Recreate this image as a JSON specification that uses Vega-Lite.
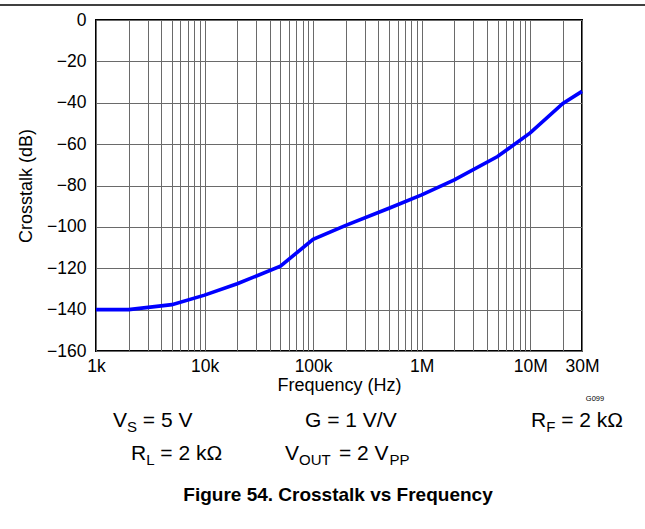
{
  "$schema": "https://vega.github.io/schema/vega-lite/v6.json",
  "width": 486,
  "height": 331,
  "autosize": {"type": "none"},
  "padding": {"left": 96, "top": 20, "right": 63, "bottom": 178},
  "background": "white",
  "config": {
    "font": "Liberation Sans",
    "view": {"stroke": "black", "strokeWidth": 2},
    "axis": {"labelFont": "Liberation Sans", "titleFont": "Liberation Sans", "labelColor": "black", "titleColor": "black", "titleFontWeight": "normal"}
  },
  "datasets": {
    "curve": [
      {"f": 1000, "db": -140},
      {"f": 2000, "db": -140},
      {"f": 5000, "db": -137.6},
      {"f": 10000, "db": -133},
      {"f": 20000, "db": -127.5},
      {"f": 50000, "db": -119},
      {"f": 100000, "db": -106},
      {"f": 200000, "db": -99.3},
      {"f": 500000, "db": -91},
      {"f": 1000000, "db": -84.5},
      {"f": 2000000, "db": -77.3},
      {"f": 5000000, "db": -66},
      {"f": 10000000, "db": -54.6},
      {"f": 20000000, "db": -40.3},
      {"f": 30000000, "db": -34.5}
    ],
    "main": [
      {"f": 1434, "db": -196.7, "text": "V"},
      {"f": 2698, "db": -196.7, "text": "= 5 V"},
      {"f": 84230, "db": -196.7, "text": "G = 1 V/V"},
      {"f": 10171000, "db": -196.7, "text": "R"},
      {"f": 19299000, "db": -196.7, "text": "= 2 kΩ"},
      {"f": 2101, "db": -212.7, "text": "R"},
      {"f": 3911, "db": -212.7, "text": "= 2 kΩ"},
      {"f": 55110, "db": -212.7, "text": "V"},
      {"f": 173200, "db": -212.7, "text": "= 2 V"}
    ],
    "sub": [
      {"f": 1931, "db": -196.7, "text": "S"},
      {"f": 14042000, "db": -196.7, "text": "F"},
      {"f": 2900, "db": -212.7, "text": "L"},
      {"f": 74170, "db": -212.7, "text": "OUT"},
      {"f": 505700, "db": -212.7, "text": "PP"}
    ],
    "tag": [{"f": 39540000, "db": -183.2, "text": "G099"}],
    "caption": [{"f": 169600, "db": -229.6, "text": "Figure 54. Crosstalk vs Frequency"}]
  },
  "layer": [
    {
      "data": {"name": "curve"},
      "mark": {"type": "line", "color": "#0000ff", "strokeWidth": 3.6, "clip": false},
      "encoding": {
        "x": {
          "field": "f", "type": "quantitative",
          "scale": {"type": "log", "domain": [1000, 30000000], "nice": false},
          "axis": {
            "title": "Frequency (Hz)",
            "values": [1000,2000,3000,4000,5000,6000,7000,8000,9000,10000,20000,30000,40000,50000,60000,70000,80000,90000,100000,200000,300000,400000,500000,600000,700000,800000,900000,1000000,2000000,3000000,4000000,5000000,6000000,7000000,8000000,9000000,10000000,20000000,30000000],
            "labelExpr": "datum.value==1000?'1k':datum.value==10000?'10k':datum.value==100000?'100k':datum.value==1000000?'1M':datum.value==10000000?'10M':datum.value==30000000?'30M':''",
            "grid": true, "gridColor": "#6a6a6a", "gridWidth": 1, "gridOpacity": 1,
            "ticks": false, "domain": false,
            "labelFontSize": 17.5, "labelPadding": 6, "labelOverlap": false, "labelFlush": false,
            "titleFontSize": 18, "titlePadding": 2
          }
        },
        "y": {
          "field": "db", "type": "quantitative",
          "scale": {"domain": [-160, 0], "nice": false},
          "axis": {
            "title": "Crosstalk (dB)",
            "values": [-160,-140,-120,-100,-80,-60,-40,-20,0],
            "grid": true, "gridColor": "#6a6a6a", "gridWidth": 1, "gridOpacity": 1,
            "ticks": false, "domain": false,
            "labelFontSize": 17.5, "labelPadding": 10, "labelFlush": false,
            "titleFontSize": 18, "titlePadding": 11
          }
        }
      }
    },
    {
      "data": {"values": [{}]},
      "mark": {"type": "rule", "color": "black", "strokeWidth": 1.5, "clip": false},
      "encoding": {
        "x": {"datum": 130.5, "type": "quantitative"},
        "x2": {"datum": 114200000},
        "y": {"datum": 7.25, "type": "quantitative"}
      }
    },
    {
      "data": {"name": "main"},
      "mark": {"type": "text", "align": "left", "baseline": "alphabetic", "fontSize": 21, "color": "black"},
      "encoding": {
        "x": {"field": "f", "type": "quantitative"},
        "y": {"field": "db", "type": "quantitative"},
        "text": {"field": "text"}
      }
    },
    {
      "data": {"name": "sub"},
      "mark": {"type": "text", "align": "left", "baseline": "alphabetic", "fontSize": 15, "dy": 5, "color": "black"},
      "encoding": {
        "x": {"field": "f", "type": "quantitative"},
        "y": {"field": "db", "type": "quantitative"},
        "text": {"field": "text"}
      }
    },
    {
      "data": {"name": "tag"},
      "mark": {"type": "text", "align": "center", "baseline": "middle", "fontSize": 7.5, "color": "black"},
      "encoding": {
        "x": {"field": "f", "type": "quantitative"},
        "y": {"field": "db", "type": "quantitative"},
        "text": {"field": "text"}
      }
    },
    {
      "data": {"name": "caption"},
      "mark": {"type": "text", "align": "center", "baseline": "middle", "fontSize": 19, "fontWeight": "bold", "color": "black"},
      "encoding": {
        "x": {"field": "f", "type": "quantitative"},
        "y": {"field": "db", "type": "quantitative"},
        "text": {"field": "text"}
      }
    }
  ]
}
